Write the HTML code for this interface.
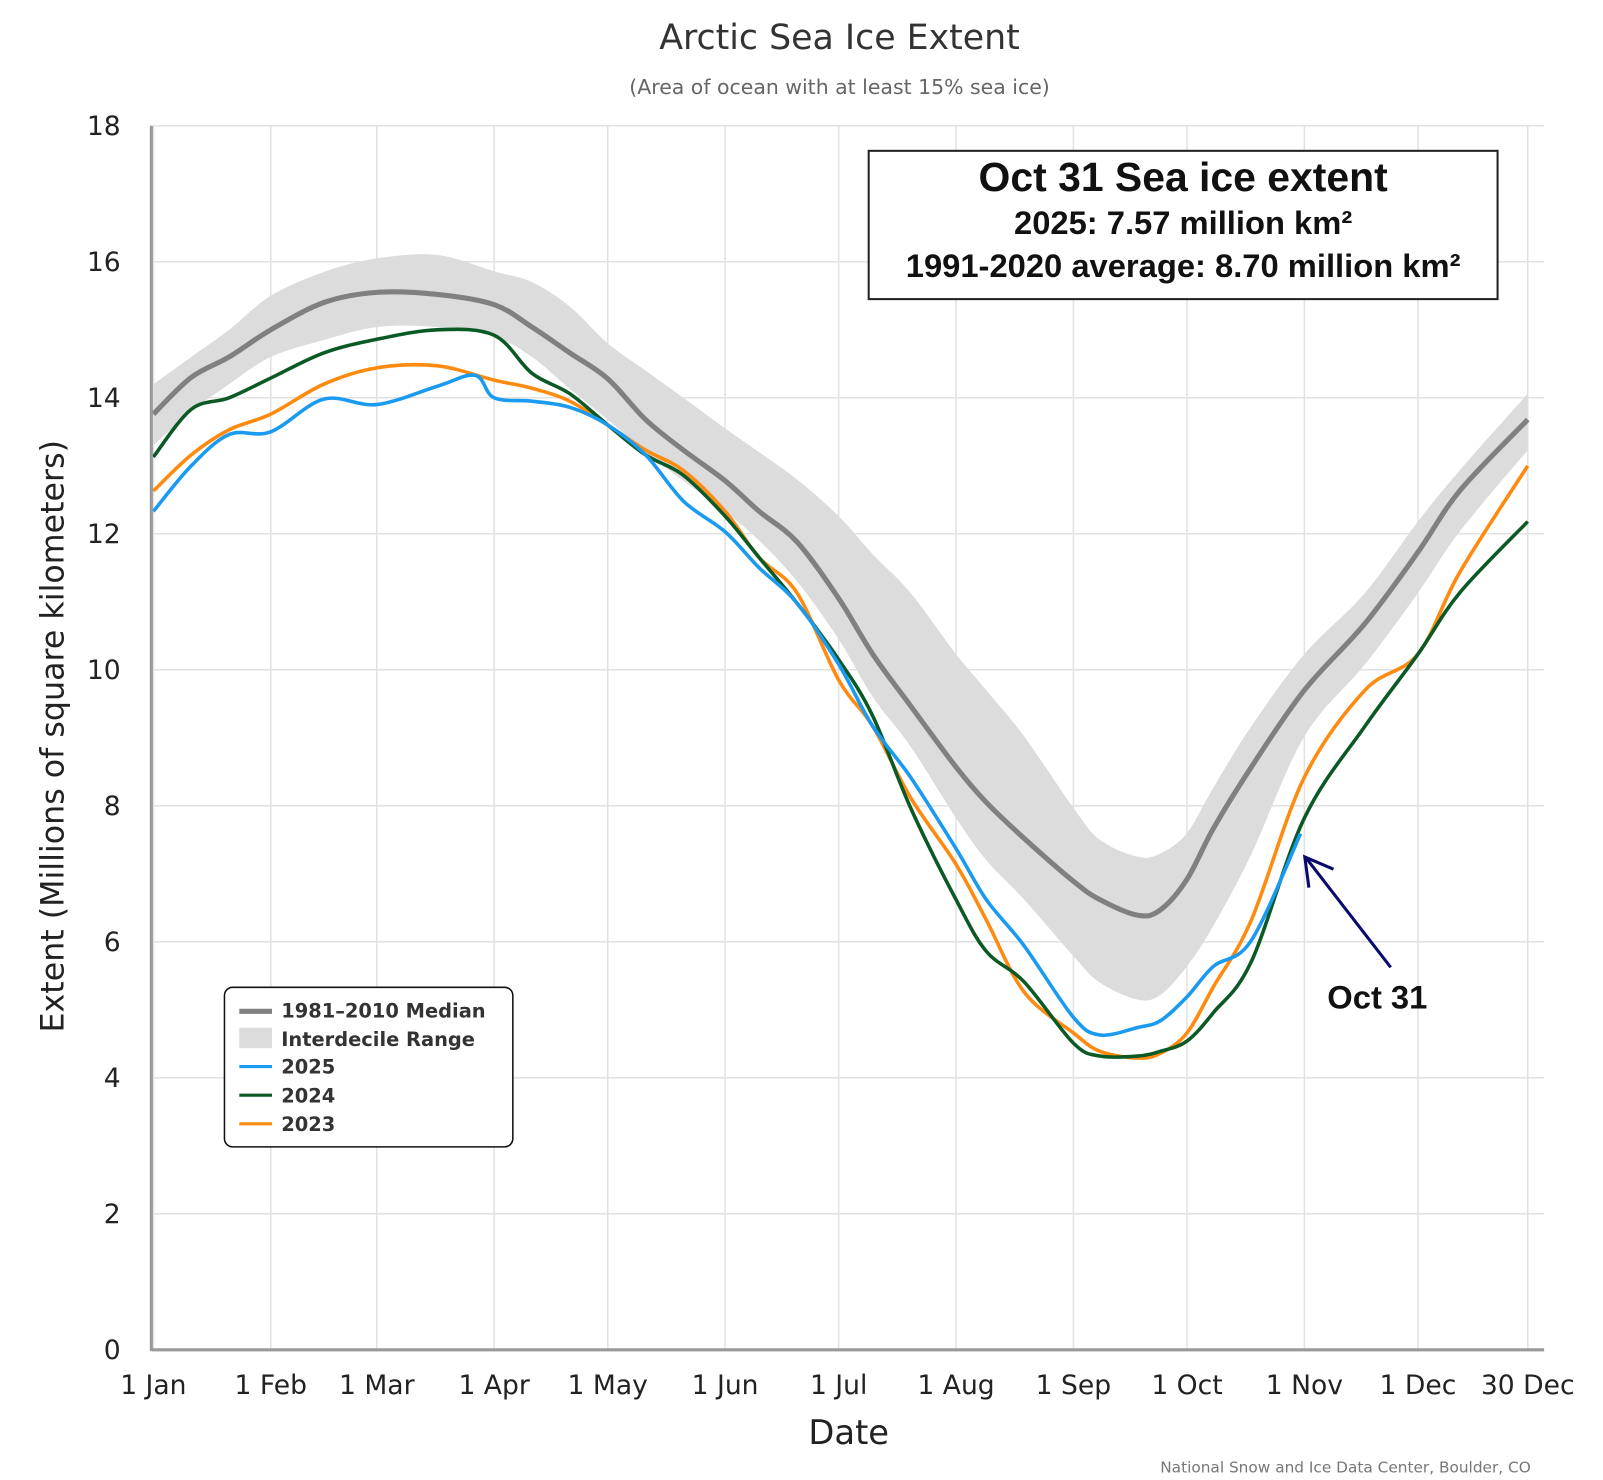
<!DOCTYPE html>
<html><head><meta charset="utf-8"><style>
html,body{margin:0;padding:0;background:#fff;}
svg{display:block;font-family:"DejaVu Sans","Liberation Sans",sans-serif;}
</style></head><body>
<svg id="chart" width="1603" height="1480" viewBox="0 0 1567.6 1447.3" preserveAspectRatio="none">
<text x="821" y="48" font-size="34" fill="#333" text-anchor="middle">Arctic Sea Ice Extent</text>
<text x="821" y="92" font-size="20" fill="#666" text-anchor="middle">(Area of ocean with at least 15% sea ice)</text>
<g id="grid"></g>
<g id="series"></g>
<g id="axes"></g>
<text transform="translate(62,720) rotate(-90)" font-size="31" fill="#222" text-anchor="middle">Extent (Millions of square kilometers)</text>
<text x="830" y="1412" font-size="33" fill="#222" text-anchor="middle">Date</text>
<text x="1497" y="1440" font-size="15" fill="#777" text-anchor="end">National Snow and Ice Data Center, Boulder, CO</text>
<g>
<rect x="849.5" y="147.5" width="615" height="145" fill="#fff" stroke="#222" stroke-width="2"/>
<text x="1157" y="187" font-size="40" font-weight="bold" fill="#111" text-anchor="middle" font-family="Liberation Sans,sans-serif">Oct 31 Sea ice extent</text>
<text x="1157" y="229" font-size="32" font-weight="bold" fill="#111" text-anchor="middle" font-family="Liberation Sans,sans-serif">2025: 7.57 million km²</text>
<text x="1157" y="271" font-size="32" font-weight="bold" fill="#111" text-anchor="middle" font-family="Liberation Sans,sans-serif">1991-2020 average: 8.70 million km²</text>
</g>
<g>
<line x1="1360" y1="946" x2="1278" y2="840" stroke="#0a0a6e" stroke-width="3"/>
<polyline points="1280,868 1276,838 1304,850" fill="none" stroke="#0a0a6e" stroke-width="3"/>
<text x="1298" y="986" font-size="32" font-weight="bold" fill="#111" font-family="Liberation Sans,sans-serif">Oct 31</text>
</g>
<g>
<rect x="219.5" y="965.5" width="282" height="156" rx="8" fill="#fff" stroke="#111" stroke-width="1.5"/>
<line x1="234" y1="989" x2="266" y2="989" stroke="#808080" stroke-width="5"/>
<text x="275" y="995" font-size="19" font-weight="bold" fill="#333">1981–2010 Median</text>
<rect x="234" y="1005" width="32" height="20" fill="#dcdcdc"/>
<text x="275" y="1023" font-size="19" font-weight="bold" fill="#333">Interdecile Range</text>
<line x1="234" y1="1043" x2="266" y2="1043" stroke="#1a9af0" stroke-width="3"/>
<text x="275" y="1050" font-size="19" font-weight="bold" fill="#333">2025</text>
<line x1="234" y1="1071" x2="266" y2="1071" stroke="#0b5a25" stroke-width="3"/>
<text x="275" y="1078" font-size="19" font-weight="bold" fill="#333">2024</text>
<line x1="234" y1="1099" x2="266" y2="1099" stroke="#ff8a10" stroke-width="3"/>
<text x="275" y="1106" font-size="19" font-weight="bold" fill="#333">2023</text>
</g>
</svg>
<script>
const days=[0,10,20,31,45,59,75,90,100,110,120,130,140,151,160,170,181,190,200,212,220,230,243,250,260,266,273,280,290,304,320,334,345,363];
const median=[13.76,14.3,14.6,15.0,15.4,15.55,15.52,15.37,15.04,14.66,14.28,13.68,13.23,12.78,12.33,11.88,11.05,10.23,9.47,8.57,8.05,7.52,6.89,6.62,6.39,6.47,6.92,7.67,8.57,9.7,10.68,11.73,12.63,13.68];
const rangeHi=[14.2,14.6,15.0,15.5,15.85,16.05,16.1,15.86,15.7,15.34,14.8,14.4,14.0,13.55,13.2,12.8,12.26,11.7,11.13,10.23,9.7,9.02,7.97,7.5,7.25,7.3,7.6,8.27,9.17,10.23,11.13,12.18,12.93,14.06];
const rangeLo=[13.3,13.8,14.2,14.6,14.85,15.04,15.04,14.9,14.6,14.13,13.68,13.2,12.78,12.33,11.9,11.3,10.45,9.6,8.87,7.82,7.2,6.62,5.79,5.4,5.15,5.22,5.64,6.24,7.29,9.02,10.08,11.13,12.03,13.23];
const y2024=[13.13,13.83,14.0,14.29,14.66,14.86,15.0,14.92,14.36,14.06,13.6,13.16,12.86,12.26,11.65,10.98,10.15,9.32,7.97,6.62,5.86,5.41,4.51,4.32,4.32,4.39,4.54,4.96,5.71,7.82,9.17,10.23,11.13,12.18];
const y2023=[12.63,13.16,13.53,13.76,14.2,14.44,14.47,14.26,14.14,13.95,13.6,13.23,12.93,12.33,11.65,11.13,9.85,9.17,8.12,7.14,6.32,5.26,4.66,4.39,4.29,4.36,4.66,5.34,6.32,8.42,9.7,10.23,11.43,13.0];
const days2025=[0,10,20,31,45,59,75,85,90,100,110,120,130,140,151,160,170,181,190,200,212,220,230,243,250,260,266,273,280,290,303];
const y2025=[12.33,13.0,13.46,13.5,13.98,13.9,14.17,14.33,14.0,13.95,13.86,13.6,13.16,12.48,12.03,11.5,10.98,10.08,9.17,8.42,7.37,6.62,5.94,4.89,4.63,4.74,4.84,5.19,5.64,6.02,7.59];
const monthDays=[0,31,59,90,120,151,181,212,243,273,304,334,363];
const monthLabels=["1 Jan","1 Feb","1 Mar","1 Apr","1 May","1 Jun","1 Jul","1 Aug","1 Sep","1 Oct","1 Nov","1 Dec","30 Dec"];
const yTicks=[0,2,4,6,8,10,12,14,16,18];

const X0=150,X1=1494,Y0=1320,Y1=123;
const xs=d=>X0+d*(X1-X0)/363;
const ys=v=>Y0-v*(Y0-Y1)/18;
const NS="http://www.w3.org/2000/svg";
function mk(tag,parent,attrs){const e=document.createElementNS(NS,tag);for(const k in attrs)e.setAttribute(k,attrs[k]);parent.appendChild(e);return e;}
function curve(ds,vs){const p=ds.map((d,i)=>[xs(d),ys(vs[i])]);let s="M"+p[0][0]+","+p[0][1];
 for(let i=0;i<p.length-1;i++){const a=p[Math.max(i-1,0)],b=p[i],c=p[i+1],d=p[Math.min(i+2,p.length-1)];
 s+=" C"+(b[0]+(c[0]-a[0])/6)+","+(b[1]+(c[1]-a[1])/6)+" "+(c[0]-(d[0]-b[0])/6)+","+(c[1]-(d[1]-b[1])/6)+" "+c[0]+","+c[1];}return s;}
const grid=document.getElementById('grid'),ser=document.getElementById('series'),ax=document.getElementById('axes');
yTicks.forEach(t=>{const l=mk('line',grid,{x1:X0,x2:1510,y1:ys(t),y2:ys(t),stroke:'#e2e2e2','stroke-width':1.5});
 
 
 const tx=mk('text',ax,{x:118,y:ys(t)+9,'font-size':26,fill:'#222','text-anchor':'end'});tx.textContent=t;
 
 });
monthDays.forEach((d,i)=>{const l=mk('line',grid,{x1:xs(d),x2:xs(d),y1:Y1,y2:Y0,stroke:'#e2e2e2','stroke-width':1.5});
 
 
 const tx=mk('text',ax,{x:xs(d),y:1363,'font-size':26,fill:'#222','text-anchor':'middle'});tx.textContent=monthLabels[i];
 
 });
const bl=mk('line',ax,{x1:X0-2,x2:1510,y1:Y0,y2:Y0,stroke:'#999','stroke-width':3});


const yl=mk('line',ax,{x1:X0-2,x2:X0-2,y1:Y1,y2:Y0+1,stroke:'#999','stroke-width':3});


const up=curve(days,rangeHi);const loRevD=days.slice().reverse(),loRevV=rangeLo.slice().reverse();
const band=mk('path',ser,{d:up+" L"+curve(loRevD,loRevV).slice(1)+" Z",fill:'#dcdcdc'});


const m=mk('path',ser,{d:curve(days,median),fill:'none',stroke:'#808080','stroke-width':5});


const o=mk('path',ser,{d:curve(days,y2023),fill:'none',stroke:'#ff8a10','stroke-width':3.5});


const g=mk('path',ser,{d:curve(days,y2024),fill:'none',stroke:'#0b5a25','stroke-width':3.5});


const b=mk('path',ser,{d:curve(days2025,y2025),fill:'none',stroke:'#1a9af0','stroke-width':3.5});


</script>
</body></html>
